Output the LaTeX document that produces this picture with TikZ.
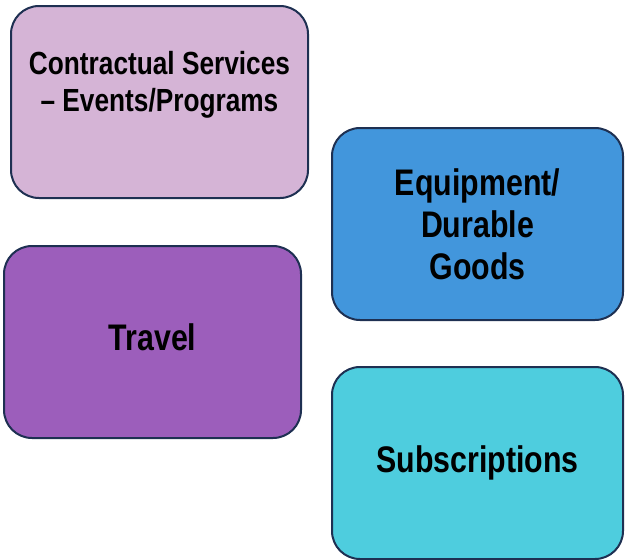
\documentclass[tikz,border=0pt]{standalone}
\usepackage{fontspec}
\setmainfont{Liberation Sans}[FakeStretch=0.82]
\definecolor{edgenavy}{RGB}{30,48,82}
\definecolor{lilac}{RGB}{213,180,214}
\definecolor{skyblue}{RGB}{66,150,220}
\definecolor{violet}{RGB}{156,94,187}
\definecolor{aqua}{RGB}{78,205,222}
\tikzset{
  catbox/.style={draw=edgenavy,line width=2pt,rounded corners=28pt,
    minimum width=297pt,minimum height=192pt,inner sep=0pt,
    align=center,font=\fontsize{37}{42}\selectfont\bfseries},
}
\begin{document}
\begin{tikzpicture}[x=1pt,y=-1pt]
\useasboundingbox (0,0) rectangle (625,560);
\node[catbox,fill=lilac] (contract) at (159.5,102) {};
\node[anchor=north,inner sep=0pt,align=center,
  font=\fontsize{32}{37}\selectfont\bfseries] (contractlbl)
  at ([yshift=-46pt]contract.north) {Contractual Services\\– Events/Programs};
\node[catbox,fill=skyblue,minimum width=291pt] (equip) at (477.5,224) {Equipment/\\Durable\\Goods};
\node[catbox,fill=violet] (travel) at (152.5,342) {\raisebox{10pt}{Travel}};
\node[catbox,fill=aqua,minimum width=291pt] (subs) at (477.5,463) {Subscriptions};
\end{tikzpicture}
\end{document}
